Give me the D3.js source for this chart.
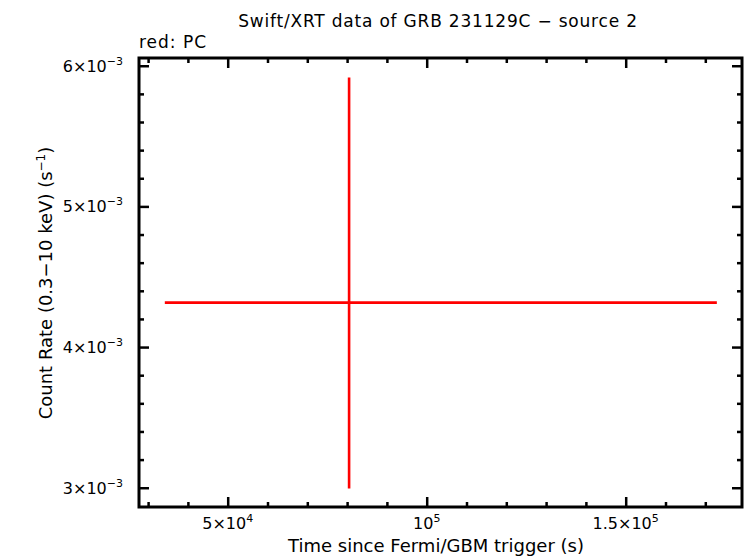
<!DOCTYPE html>
<html>
<head>
<meta charset="utf-8">
<script src="https://cdn.jsdelivr.net/npm/d3@7"></script>
<style>
  html, body { margin: 0; padding: 0; background: #fff; }
  svg { display: block; font-family: 'DejaVu Sans', 'Liberation Sans', Arial, sans-serif; }
</style>
</head>
<body>
<div id="chart"></div>
<script>
// Swift/XRT light curve, single PC point with asymmetric errors
var pcTime = [80500];
var pcTimeLo = [34200];
var pcTimeHi = [172900];
var pcRate = [0.004316];
var pcRateLo = [0.002994];
var pcRateHi = [0.005917];

var xMajor = [50000, 100000, 150000];
var xMajorLabels = [['5×10', '4'], ['10', '5'], ['1.5×10', '5']];
var xMinor = [30000, 40000, 60000, 70000, 80000, 90000, 110000, 120000, 130000, 140000, 160000, 170000];
var yMajor = [0.003, 0.004, 0.005, 0.006];
var yMajorLabels = [['3×10', '−3'], ['4×10', '−3'], ['5×10', '−3'], ['6×10', '−3']];
var yMinor = [0.0032, 0.0034, 0.0036, 0.0038, 0.0042, 0.0044, 0.0046, 0.0048,
              0.0052, 0.0054, 0.0056, 0.0058];

var width = 746, height = 558;
var margin = { top: 58, right: 4, bottom: 51, left: 139 };

var svg = d3.select('#chart').append('svg')
  .attr('width', width)
  .attr('height', height);

var x = d3.scaleLinear().domain([27714, 179221]).range([margin.left, width - margin.right]);
var y = d3.scaleLinear().domain([0.002863, 0.006055]).range([height - margin.bottom, margin.top]);

function styleAxis(g) {
  g.select('.domain').remove();
  g.selectAll('line').attr('stroke', '#000').attr('stroke-width', 2.5);
  g.selectAll('text').remove();
}

// ticks on all four sides, pointing inward
var axes = [
  { fn: d3.axisBottom, s: x, major: xMajor, minor: xMinor, t: 'translate(0,' + (height - margin.bottom) + ')' },
  { fn: d3.axisTop, s: x, major: xMajor, minor: xMinor, t: 'translate(0,' + margin.top + ')' },
  { fn: d3.axisLeft, s: y, major: yMajor, minor: yMinor, t: 'translate(' + margin.left + ',0)' },
  { fn: d3.axisRight, s: y, major: yMajor, minor: yMinor, t: 'translate(' + (width - margin.right) + ',0)' }
];
axes.forEach(function (a) {
  svg.append('g').attr('transform', a.t)
    .call(a.fn(a.s).tickValues(a.major).tickSize(-10))
    .call(styleAxis);
  svg.append('g').attr('transform', a.t)
    .call(a.fn(a.s).tickValues(a.minor).tickSize(-5))
    .call(styleAxis);
});

// frame
svg.append('rect')
  .attr('x', margin.left)
  .attr('y', margin.top)
  .attr('width', width - margin.right - margin.left)
  .attr('height', height - margin.bottom - margin.top)
  .attr('fill', 'none')
  .attr('stroke', '#000')
  .attr('stroke-width', 3);

// tick labels with superscripts
function supLabel(sel, parts, supSize) {
  sel.append('tspan').text(parts[0]);
  sel.append('tspan').attr('dy', -7).attr('font-size', supSize).text(parts[1]);
}

svg.selectAll('.xl')
  .data(xMajor)
  .join('text')
  .attr('class', 'xl')
  .attr('x', function (d) { return x(d); })
  .attr('y', 529)
  .attr('text-anchor', 'middle')
  .attr('font-size', 16)
  .attr('fill', '#000')
  .each(function (d, i) { supLabel(d3.select(this), xMajorLabels[i], 11); });

svg.selectAll('.yl')
  .data(yMajor)
  .join('text')
  .attr('class', 'yl')
  .attr('x', 123)
  .attr('y', function (d) { return y(d) + 6; })
  .attr('text-anchor', 'end')
  .attr('font-size', 16)
  .attr('fill', '#000')
  .each(function (d, i) { supLabel(d3.select(this), yMajorLabels[i], 11); });

// data: error bars
var pts = pcTime.map(function (t, i) {
  return { t: t, tlo: pcTimeLo[i], thi: pcTimeHi[i], r: pcRate[i], rlo: pcRateLo[i], rhi: pcRateHi[i] };
});
svg.selectAll('.xerr')
  .data(pts)
  .join('line')
  .attr('class', 'xerr')
  .attr('x1', function (d) { return x(d.tlo); })
  .attr('x2', function (d) { return x(d.thi); })
  .attr('y1', function (d) { return y(d.r); })
  .attr('y2', function (d) { return y(d.r); })
  .attr('stroke', '#ff0000')
  .attr('stroke-width', 2.6);
svg.selectAll('.yerr')
  .data(pts)
  .join('line')
  .attr('class', 'yerr')
  .attr('x1', function (d) { return x(d.t); })
  .attr('x2', function (d) { return x(d.t); })
  .attr('y1', function (d) { return y(d.rlo); })
  .attr('y2', function (d) { return y(d.rhi); })
  .attr('stroke', '#ff0000')
  .attr('stroke-width', 2.6);

// titles
svg.append('text')
  .attr('x', 438)
  .attr('y', 27)
  .attr('text-anchor', 'middle')
  .attr('font-size', 17)
  .attr('letter-spacing', 0.8)
  .attr('fill', '#000')
  .text('Swift/XRT data of GRB 231129C − source 2');

svg.append('text')
  .attr('x', 139)
  .attr('y', 48)
  .attr('font-size', 17)
  .attr('letter-spacing', 1)
  .attr('fill', '#000')
  .text('red: PC');

svg.append('text')
  .attr('x', 436)
  .attr('y', 552)
  .attr('text-anchor', 'middle')
  .attr('font-size', 18)
  .attr('fill', '#000')
  .text('Time since Fermi/GBM trigger (s)');

var yl = svg.append('text')
  .attr('transform', 'translate(52,283) rotate(-90)')
  .attr('text-anchor', 'middle')
  .attr('font-size', 18)
  .attr('fill', '#000');
yl.append('tspan').text('Count Rate (0.3−10 keV) (s');
yl.append('tspan').attr('dy', -7).attr('font-size', 12).text('−1');
yl.append('tspan').attr('dy', 7).text(')');
</script>
</body>
</html>
